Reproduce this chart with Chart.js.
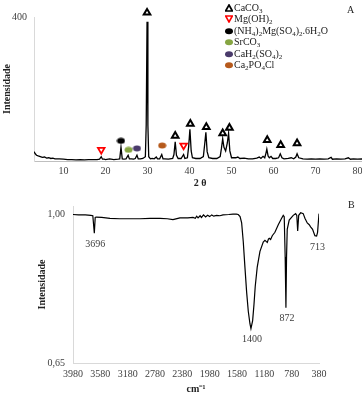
<!DOCTYPE html>
<html>
<head>
<meta charset="utf-8">
<script src="https://cdn.jsdelivr.net/npm/chart.js@4.4.0/dist/chart.umd.min.js"></script>
<style>
  body { margin: 0; width: 362px; height: 394px; overflow: hidden; position: relative; background: #fff;
         font-family: 'Liberation Serif', 'Times New Roman', serif; color: #222; }
  canvas { position: absolute; left: 0; }
  #legend { position: absolute; left: 225px; top: 2px; font-size: 10px; line-height: 11.4px; }
  #legend div { white-space: nowrap; height: 11.4px; }
  #legend svg { vertical-align: -1px; margin-right: 1px; }
  #legend sub { font-size: 7px; vertical-align: -2px; line-height: 0; }
  .tag { position: absolute; font-size: 10px; }
</style>
</head>
<body>
<canvas id="xrd" width="372" height="192" style="top:0"></canvas>
<canvas id="ftir" width="362" height="202" style="top:192px"></canvas>
<div id="legend"></div>
<div class="tag" style="left:347px;top:4px">A</div>
<div class="tag" style="left:348px;top:199px">B</div>
<script>
// ---- XRD (A) ----
const xrdAngle = [3.0, 3.3, 3.6, 4.0, 4.5, 5.0, 5.5, 6.0, 6.5, 7.0, 7.5, 8.0, 9.0, 10.0, 11.0, 12.0, 13.0, 14.0, 15.0, 16.0, 17.0, 18.0, 18.6, 19.0, 19.3, 19.7, 20.0, 21.0, 22.0, 23.0, 23.4, 23.7, 24.0, 24.4, 24.9, 25.4, 25.7, 26.2, 26.7, 27.1, 27.5, 27.8, 28.3, 28.9, 29.5, 29.7, 29.9, 30.1, 30.3, 30.7, 31.1, 31.6, 32.1, 32.4, 32.9, 33.4, 33.7, 34.1, 35.0, 36.0, 36.3, 36.6, 36.9, 37.3, 38.0, 38.6, 38.9, 39.5, 39.8, 40.1, 40.4, 40.7, 41.5, 42.5, 43.3, 43.6, 43.9, 44.2, 44.6, 45.5, 46.5, 47.3, 47.6, 47.9, 48.2, 48.6, 49.0, 49.3, 49.6, 50.0, 51.0, 51.5, 52.0, 53.0, 54.0, 55.0, 56.0, 56.6, 57.0, 57.5, 57.9, 58.2, 58.4, 58.7, 59.0, 59.4, 59.8, 60.5, 61.2, 61.6, 62.0, 62.5, 63.5, 64.2, 64.8, 65.3, 65.6, 66.0, 67.0, 68.0, 69.0, 70.0, 71.0, 72.0, 73.0, 73.7, 74.0, 75.0, 76.0, 77.0, 77.8, 78.3, 79.0, 80.0, 81.0, 82.0];
const xrdCounts = [26, 20, 16, 14, 12, 10, 11, 8, 9, 7, 8, 6, 6, 5, 4, 4, 3, 4, 3, 4, 4, 4, 5, 12, 5, 5, 4, 6, 4, 5, 6, 38, 6, 5, 6, 16, 6, 6, 5, 7, 16, 6, 6, 7, 12, 100, 387, 100, 12, 6, 7, 6, 11, 6, 6, 18, 6, 6, 5, 7, 18, 53, 16, 7, 7, 18, 7, 9, 40, 88, 28, 9, 7, 7, 12, 45, 80, 26, 9, 7, 7, 12, 35, 62, 38, 28, 50, 77, 28, 9, 9, 11, 7, 8, 6, 6, 8, 11, 7, 13, 9, 22, 33, 14, 9, 13, 7, 7, 9, 20, 9, 6, 7, 9, 6, 11, 20, 9, 6, 5, 6, 5, 6, 5, 6, 10, 5, 6, 5, 6, 9, 5, 6, 5, 6, 5];
const xrdTicks = [10, 20, 30, 40, 50, 60, 70, 80];

const phaseNames = ['CaCO3', 'Mg(OH)2', '(NH4)2Mg(SO4)2.6H2O', 'SrCO3', 'CaH2(SO4)2', 'Ca2PO4Cl'];
const caco3Angle = [29.9, 36.6, 40.2, 44.0, 47.9, 49.5, 58.5, 61.7, 65.6];
const caco3Mark = [412, 70, 103, 94, 77, 92, 58, 44, 49];
const mgohAngle = [19.0, 38.6];
const mgohMark = [31, 43];
const nh4Angle = [23.7];
const nh4Mark = [56];
const srco3Angle = [25.5];
const srco3Mark = [31];
const cah2Angle = [27.5];
const cah2Mark = [35];
const ca2Angle = [33.5];
const ca2Mark = [43];

// ---- FTIR (B) ----
const ftirWavenumber = [3980, 3900, 3800, 3720, 3690, 3668, 3655, 3640, 3560, 3439, 3300, 3194, 3000, 2850, 2707, 2600, 2517, 2415, 2300, 2224, 2190, 2170, 2150, 2120, 2100, 2070, 2040, 2010, 1980, 1950, 1920, 1878, 1830, 1785, 1700, 1639, 1590, 1562, 1535, 1512, 1488, 1464, 1439, 1415, 1390, 1376, 1351, 1332, 1313, 1284, 1244, 1196, 1171, 1150, 1137, 1120, 1108, 1088, 1064, 1025, 976, 927, 903, 889, 875, 864, 855, 845, 816, 757, 722, 705, 692, 677, 648, 611, 586, 552, 523, 503, 474, 440, 415, 401, 380];
const ftirIntensity = [1.000, 0.999, 0.999, 0.998, 0.997, 0.956, 0.993, 0.994, 0.993, 0.991, 0.990, 0.990, 0.990, 0.991, 0.991, 0.990, 0.988, 0.992, 0.992, 0.993, 0.991, 0.996, 0.992, 0.997, 0.993, 0.999, 0.994, 0.998, 0.995, 0.999, 0.996, 0.998, 0.997, 0.999, 1.000, 1.001, 1.001, 1.000, 0.995, 0.980, 0.935, 0.876, 0.817, 0.772, 0.742, 0.731, 0.750, 0.787, 0.831, 0.876, 0.913, 0.935, 0.939, 0.936, 0.934, 0.942, 0.944, 0.941, 0.950, 0.958, 0.976, 0.991, 0.998, 0.995, 0.900, 0.780, 0.900, 0.965, 0.987, 0.998, 1.002, 0.998, 0.961, 0.998, 1.004, 1.002, 0.991, 0.980, 0.976, 0.971, 0.965, 0.950, 0.949, 0.958, 1.002];
const ftirTicks = [3980, 3580, 3180, 2780, 2380, 1980, 1580, 1180, 780, 380];
const intensityTicks = [0.65, 1.00];
const bandLabels = ['3696', '1400', '872', '713'];
const bandAt = [3668, 1376, 864, 415];

const serif = "'Liberation Serif', 'Times New Roman', serif";
Chart.defaults.font.family = serif;
Chart.defaults.font.size = 10;
Chart.defaults.color = '#404040';
Chart.defaults.animation = false;

function ellipse(color) {
  const c = document.createElement('canvas');
  c.width = 9; c.height = 7;
  const g = c.getContext('2d');
  g.fillStyle = color;
  g.beginPath();
  g.ellipse(4.5, 3.5, 4.0, 2.9, 0, 0, Math.PI * 2);
  g.fill();
  return c;
}

const phaseColors = ['#000000', '#ff0000', '#000000', '#86a542', '#4a3b6b', '#b65a1c'];

function pts(xs, ys) { return xs.map((x, i) => ({ x: x, y: ys[i] })); }

function markerSet(xs, ys, style) {
  return Object.assign({ type: 'scatter', data: pts(xs, ys), clip: false, pointRadius: 3.8, pointHoverRadius: 3.8 }, style);
}

new Chart(document.getElementById('xrd'), {
  type: 'line',
  data: {
    datasets: [
      { data: pts(xrdAngle, xrdCounts), borderColor: '#000', borderWidth: 1.3, pointRadius: 0, tension: 0 },
      markerSet(caco3Angle, caco3Mark, { pointStyle: 'triangle', backgroundColor: '#fff', borderColor: '#000', borderWidth: 2 }),
      markerSet(mgohAngle, mgohMark, { pointStyle: 'triangle', rotation: 180, backgroundColor: '#fff', borderColor: phaseColors[1], borderWidth: 1.8 }),
      markerSet(nh4Angle, nh4Mark, { pointStyle: ellipse(phaseColors[2]) }),
      markerSet(srco3Angle, srco3Mark, { pointStyle: ellipse(phaseColors[3]) }),
      markerSet(cah2Angle, cah2Mark, { pointStyle: ellipse(phaseColors[4]) }),
      markerSet(ca2Angle, ca2Mark, { pointStyle: ellipse(phaseColors[5]) })
    ]
  },
  options: {
    responsive: false,
    devicePixelRatio: 1,
    layout: { padding: { top: 17, right: 6, left: 0, bottom: 0 } },
    plugins: { legend: { display: false }, tooltip: { enabled: false } },
    scales: {
      x: {
        type: 'linear', min: 3, max: 82,
        grid: { display: false, drawTicks: false },
        border: { color: '#bfbfbf' },
        afterBuildTicks: s => { s.ticks = xrdTicks.map(v => ({ value: v })); },
        afterFit: s => { s.height = 31; },
        ticks: { padding: 4, maxRotation: 0, autoSkip: false, callback: v => String(v) },
        title: { display: true, text: '2 θ', color: '#222', font: { weight: 'bold', size: 10 }, padding: { top: 0, bottom: 3 } }
      },
      y: {
        min: 0, max: 400,
        grid: { display: false, drawTicks: false },
        border: { color: '#d9d9d9' },
        afterBuildTicks: s => { s.ticks = [{ value: 400 }]; },
        afterFit: s => { s.width = 34; },
        ticks: { padding: 7 },
        title: { display: true, text: 'Intensidade', color: '#222', font: { weight: 'bold', size: 10 }, padding: { top: 1, bottom: 0 } }
      }
    }
  }
});

// band labels under the FTIR dips
const bandLabelPlugin = {
  id: 'bandLabels',
  afterDatasetsDraw(chart) {
    const ctx = chart.ctx, xs = chart.scales.x, ys = chart.scales.y;
    ctx.save();
    ctx.font = '10px ' + serif;
    ctx.fillStyle = '#404040';
    ctx.textAlign = 'center';
    ctx.textBaseline = 'top';
    bandLabels.forEach((txt, i) => {
      let best = -1;
      ftirWavenumber.forEach((w, j) => {
        if (Math.abs(w - bandAt[i]) <= 30 && (best < 0 || ftirIntensity[j] < ftirIntensity[best])) best = j;
      });
      const px = xs.getPixelForValue(ftirWavenumber[best]);
      const py = ys.getPixelForValue(ftirIntensity[best]);
      ctx.fillText(txt, px + 1, py + 6);
    });
    ctx.restore();
  }
};

new Chart(document.getElementById('ftir'), {
  type: 'line',
  data: {
    datasets: [{ data: pts(ftirWavenumber, ftirIntensity), borderColor: '#000', borderWidth: 1.2, pointRadius: 0, tension: 0 }]
  },
  options: {
    responsive: false,
    devicePixelRatio: 1,
    layout: { padding: { top: 5, right: 43, left: 0, bottom: 0 } },
    plugins: { legend: { display: false }, tooltip: { enabled: false } },
    scales: {
      x: {
        type: 'linear', min: 380, max: 3980, reverse: true,
        grid: { display: false, drawTicks: false },
        border: { color: '#d9d9d9' },
        afterBuildTicks: s => { s.ticks = ftirTicks.map(v => ({ value: v })); },
        afterFit: s => { s.height = 31; },
        ticks: { padding: 5, maxRotation: 0, minRotation: 0, autoSkip: false, callback: v => String(v) },
        title: { display: true, text: 'cm⁻¹', color: '#222', font: { weight: 'bold', size: 10, lineHeight: 1 }, padding: { top: 0, bottom: 0 } }
      },
      y: {
        min: 0.65, max: 1.02,
        grid: { display: false, drawTicks: false },
        border: { color: '#d9d9d9' },
        afterBuildTicks: s => { s.ticks = intensityTicks.map(v => ({ value: v })); },
        afterFit: s => { s.width = 73; },
        ticks: { padding: 8, callback: v => v.toFixed(2).replace('.', ',') },
        title: { display: true, text: 'Intensidade', color: '#222', font: { weight: 'bold', size: 10 }, padding: { top: 36, bottom: 0 } }
      }
    }
  },
  plugins: [bandLabelPlugin]
});

// legend (A)
const legendIcons = [
  '<polygon points="4,1 7.4,7 0.6,7" fill="#fff" stroke="#000" stroke-width="1.7"/>',
  '<polygon points="0.6,1 7.4,1 4,7" fill="#fff" stroke="#ff0000" stroke-width="1.6"/>',
  '<ellipse cx="4" cy="4.2" rx="4" ry="3" fill="' + phaseColors[2] + '"/>',
  '<ellipse cx="4" cy="4.2" rx="4" ry="3" fill="' + phaseColors[3] + '"/>',
  '<ellipse cx="4" cy="4.2" rx="4" ry="3" fill="' + phaseColors[4] + '"/>',
  '<ellipse cx="4" cy="4.2" rx="4" ry="3" fill="' + phaseColors[5] + '"/>'
];
document.getElementById('legend').innerHTML = phaseNames.map((n, i) =>
  '<div><svg width="8" height="8">' + legendIcons[i] + '</svg>' +
  n.replace(/([A-Za-z)])(\d)/g, '$1<sub>$2</sub>') + '</div>').join('');
</script>
</body>
</html>
